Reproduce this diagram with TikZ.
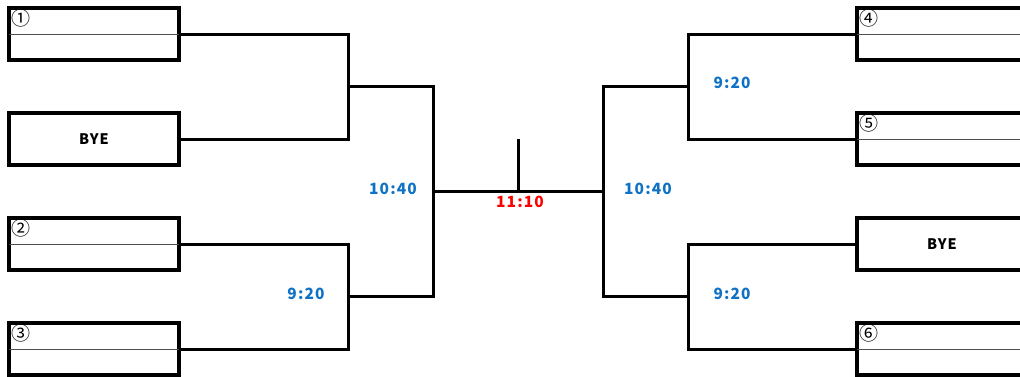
\documentclass[tikz,border=0pt]{standalone}
\usepackage{fontspec}
\setmainfont{Noto Sans CJK JP}
\newfontfamily\widefont[LetterSpace=7]{Noto Sans CJK JP}
\usetikzlibrary{positioning}
\definecolor{timeblue}{RGB}{16,114,196}
\definecolor{finalred}{RGB}{255,0,0}

\begin{document}
\begin{tikzpicture}[x=1pt, y=-1pt,
    entry/.style={draw, line width=3.3pt, minimum width=170pt, minimum height=52pt,
      inner sep=0pt, outer sep=0pt, font=\widefont\fontsize{14.5}{14.5}\selectfont\bfseries},
    link/.style={line width=3pt, line join=miter},
    divider/.style={line width=1pt, color=black!70},
    seed/.style={inner sep=0pt, anchor=north west, font=\fontsize{19}{19}\selectfont},
    slot/.style={text=timeblue, font=\widefont\fontsize{15.5}{15.5}\selectfont\bfseries},
    final/.style={text=finalred, font=\widefont\fontsize{15.5}{15.5}\selectfont\bfseries}]
    \useasboundingbox (0,0) rectangle (1020,376);
    \clip (0,0) rectangle (1020,376);

    % entry boxes, left side
    \node[entry] (e1) at (94,34) {};
    \node[entry] (bye1) at (94,139) {BYE};
    \node[entry] (e2) at (94,244) {};
    \node[entry] (e3) at (94,349) {};
    % entry boxes, right side
    \node[entry] (e4) at (942,34) {};
    \node[entry] (e5) at (942,139) {};
    \node[entry] (bye2) at (942,244) {BYE};
    \node[entry] (e6) at (942,349) {};

    % seed numbers and name lines
    \foreach \b/\n in {e1/①, e2/②, e3/③, e4/④, e5/⑤, e6/⑥}
    {
      \draw[divider] (\b.west) -- (\b.east);
      \node[seed] (\b-n) at ([shift={(2,1)}]\b.north west) {\n};
    }

    % bracket joints
    \coordinate (ja) at (348,86);
    \coordinate (jb) at (348,296);
    \coordinate (jc) at (688,86);
    \coordinate (jd) at (688,296);
    \coordinate (kl) at (433,191);
    \coordinate (kr) at (603,191);
    \coordinate (mid) at (518,191);
    \coordinate (top) at (518,139);

    % bracket lines
    \draw[link] (e1.east) -| (ja) |- (bye1.east);
    \draw[link] (e2.east) -| (jb) |- (e3.east);
    \draw[link] (ja) -| (kl) |- (jb);
    \draw[link] (e4.west) -| (jc) |- (e5.west);
    \draw[link] (bye2.west) -| (jd) |- (e6.west);
    \draw[link] (jc) -| (kr) |- (jd);
    \draw[link] (kl) -- (kr);
    \draw[link] (mid) -- (top);

    % match times
    \node[slot] (t1) at (393,189) {10:40};
    \node[slot] (t2) at (306,294) {9:20};
    \node[final] (t0) at (520,202) {11:10};
    \node[slot] (t3) at (648,189) {10:40};
    \node[slot] (t4) at (732,83) {9:20};
    \node[slot] (t5) at (732,294) {9:20};
\end{tikzpicture}
\end{document}
